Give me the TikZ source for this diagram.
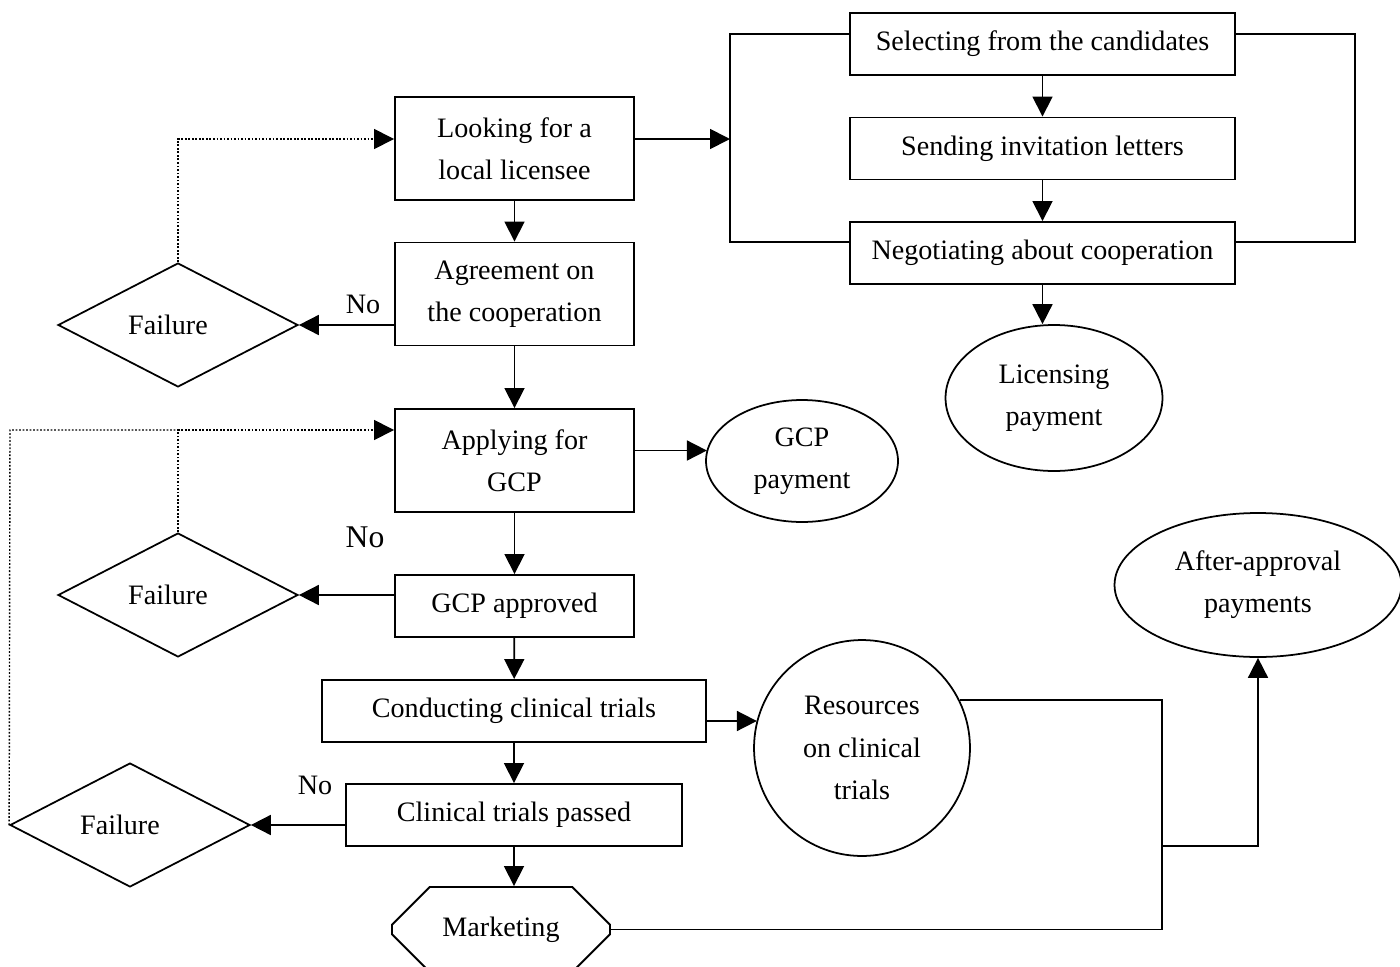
\documentclass[tikz,border=0pt]{standalone}
\usepackage{fontspec}
\setmainfont{Liberation Serif}
\usepackage{tikz}
\usetikzlibrary{arrows.meta,shapes.geometric,shapes.misc}

\begin{document}
\begin{tikzpicture}[x=0.02cm,y=-0.02cm,line width=1pt,
  font=\fontsize{16}{24}\selectfont,
  box/.style={rectangle,draw,line width=1.1pt,align=center,inner sep=2pt,minimum width=4.78cm,minimum height=2.06cm},
  flat/.style={box,minimum height=1.24cm},
  ell/.style={ellipse,draw,align=center,inner sep=0pt},
  fail/.style={diamond,draw,inner sep=0pt,minimum width=4.8cm,minimum height=2.48cm},
  ar/.style={-{Triangle[length=4mm,width=4mm]}},
  dot/.style={line width=0.8pt,dash pattern=on 1pt off 1pt}]
  \useasboundingbox (0,0) rectangle (1400,967);
  % main column
  \node[box]  (look)  at (514.5,148.5) {Looking for a\\ local licensee};
  \node[box]  (agree) at (514.5,294)   {Agreement on\\ the cooperation};
  \node[box]  (apply) at (514.5,460.5) {Applying for\\ GCP};
  \node[flat] (gcpok) at (514.5,606)   {GCP approved};
  \node[flat,minimum width=7.68cm] (trial) at (514,711) {Conducting clinical trials};
  \node[flat,minimum width=6.72cm] (pass)  at (514,815) {Clinical trials passed};
  \node[chamfered rectangle,draw,line width=1.1pt,inner sep=0pt,minimum width=4.36cm,minimum height=1.7cm,
        chamfered rectangle xsep=0.5cm,chamfered rectangle ysep=0.5cm] (mkt) at (501,929.5) {Marketing};
  % failures
  \node[fail] (f1) at (178,325) {Failure\hspace*{0.4cm}};
  \node[fail] (f2) at (178,595) {Failure\hspace*{0.4cm}};
  \node[fail] (f3) at (130,825) {Failure\hspace*{0.4cm}};
  \node (no1) at (363,304) {No};
  \node[font=\fontsize{18}{22}\selectfont] (no2) at (365,537) {No};
  \node (no3) at (315,785) {No};
  % licensing branch
  \node[flat,minimum width=7.7cm] (sel)  at (1042.5,44)    {Selecting from the candidates};
  \node[flat,minimum width=7.7cm] (send) at (1042.5,148.5) {Sending invitation letters};
  \node[flat,minimum width=7.7cm] (neg)  at (1042.5,253)   {Negotiating about cooperation};
  \node[ell,minimum width=4.34cm,minimum height=2.92cm] (lic)   at (1054,398) {Licensing\\ payment};
  \node[ell,minimum width=3.84cm,minimum height=2.44cm] (pay)   at (802,461)  {GCP\\ payment};
  \node[ell,minimum width=4.32cm,minimum height=4.32cm] (res)   at (862,748)  {Resources\\ on clinical\\ trials};
  \node[ell,minimum width=5.74cm,minimum height=2.88cm] (after) at (1258,585) {After-approval\\ payments};
  \coordinate (bL)  at (730,139);
  \coordinate (bTL) at (730,34);
  \coordinate (bBL) at (730,242);
  \coordinate (bTR) at (1355,34);
  \coordinate (bBR) at (1355,242);
  \coordinate (dj) at (178,430);
  \coordinate (dl) at (10,430);
  \coordinate (jc) at (1162,846);
  \coordinate (mc) at (1162,929.5);

  \draw[ar] (look) -- (agree);
  \draw[ar] (agree) -- (apply);
  \draw[ar] (apply) -- (gcpok);
  \draw[ar] (gcpok) -- (trial);
  \draw[ar] (trial) -- (pass);
  \draw[ar] (pass.south) -- (pass.south |- mkt.north);
  \draw[ar] (f1.east -| agree.west) -- (f1.east);
  \draw[ar] (f2.east -| gcpok.west) -- (f2.east);
  \draw[ar] (f3.east -| pass.west) -- (f3.east);
  \draw[ar] ([yshift=2mm]apply.east) -- ([yshift=2mm]apply.east -| pay.173);
  \draw[ar] ([yshift=-2mm]trial.east) -- ([yshift=-2mm]trial.east -| res.165);
  \draw[ar] (bL -| look.east) -- (bL);
  \draw (bTL -| sel.west) -- (bTL) -- (bBL) -- (bBL -| neg.west);
  \draw (bTR -| sel.east) -- (bTR) -- (bBR) -- (bBR -| neg.east);
  \draw[ar] (sel) -- (send);
  \draw[ar] (send) -- (neg);
  \draw[ar] (neg.south) -- (neg.south |- lic.north);
  \draw[dot,ar] (f1.north) |- (bL -| look.west);
  \draw[dot,ar] (f2.north) -- (dj) -- (dj -| apply.west);
  \draw[dot] (f3.west) -- (dl) -- (dj);
  \draw (res.26) -| (mc) -- (mkt.east);
  \draw[ar] (jc) -| (after.south);
\end{tikzpicture}
\end{document}
